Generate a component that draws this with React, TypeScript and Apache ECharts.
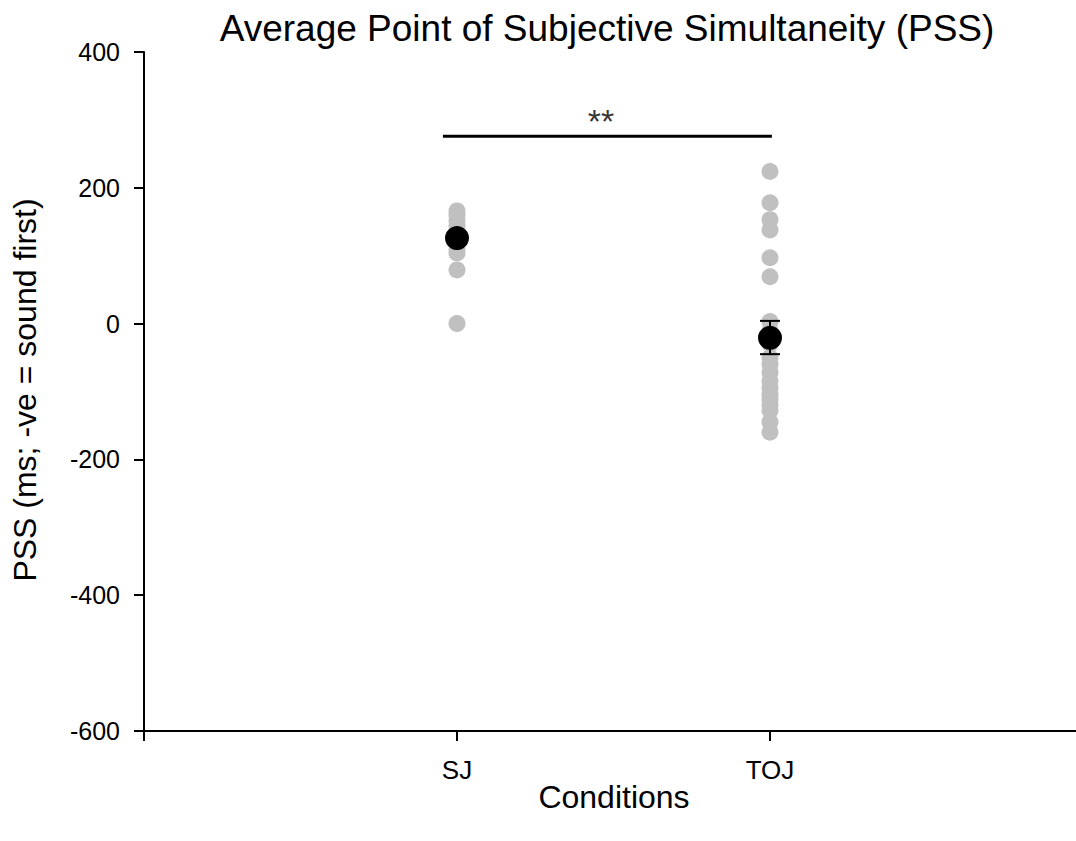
import React, { useEffect, useRef } from "react";
import * as echarts from "echarts";

const categories = ["SJ", "TOJ"];
const categoryPositions = [1, 2];
const sjPoints = [166, 160, 152, 145, 138, 130, 124, 118, 110, 104, 79, 0];
const tojPoints = [224, 178, 153, 138, 97, 69, 3, -10, -30, -50, -60, -72, -85, -95, -105, -112, -120, -128, -145, -160];
const means = [126, -21];
const errLow = [118, -45];
const errHigh = [134, 4];
const sigBarX = [0.955, 2.006];
const sigBarY = 276;
const sigLabel = "**";
const sigLabelX = 1.46;
const yTicks = [-600, -400, -200, 0, 200, 400];

const FONT = "Liberation Sans, Arial, sans-serif";

export default function App() {
  const ref = useRef<HTMLDivElement>(null);
  useEffect(() => {
    document.body.style.margin = "0";
    const chart = echarts.init(ref.current!, null, { renderer: "svg" });
    const grey = [
      ...sjPoints.map((v) => [categoryPositions[0], v]),
      ...tojPoints.map((v) => [categoryPositions[1], v]),
    ];
    const meanData = means.map((m, i) => [categoryPositions[i], m]);
    const errData = means.map((_, i) => [categoryPositions[i], errLow[i], errHigh[i]]);
    chart.setOption({
      animation: false,
      textStyle: { fontFamily: FONT },
      graphic: [
        {
          type: "text",
          x: 607,
          y: 10,
          style: {
            text: "Average Point of Subjective Simultaneity (PSS)",
            font: `37px ${FONT}`,
            fill: "#000",
            textAlign: "center",
            textVerticalAlign: "top",
          },
        },
        {
          type: "text",
          x: 25,
          y: 390,
          rotation: Math.PI / 2,
          style: {
            text: "PSS (ms; -ve = sound first)",
            font: `32px ${FONT}`,
            fill: "#000",
            textAlign: "center",
            textVerticalAlign: "middle",
          },
        },
        {
          type: "text",
          x: 614,
          y: 797,
          style: {
            text: "Conditions",
            font: `32px ${FONT}`,
            fill: "#000",
            textAlign: "center",
            textVerticalAlign: "middle",
          },
        },
      ],
      grid: {
        left: 144,
        top: 52,
        height: 679,
        width: 939,
        containLabel: false,
        outerBoundsMode: "none",
      },
      xAxis: {
        type: "value",
        min: 0,
        max: 3,
        interval: 1,
        axisLine: { show: true, onZero: false, lineStyle: { color: "#000", width: 2 } },
        axisTick: { show: true, length: 10, lineStyle: { color: "#000", width: 2 } },
        axisLabel: {
          margin: 26,
          fontSize: 26,
          color: "#000",
          fontFamily: FONT,
          formatter: (v: number) => {
            const i = categoryPositions.indexOf(v);
            return i >= 0 ? categories[i] : "";
          },
        },
        splitLine: { show: false },
      },
      yAxis: {
        type: "value",
        min: yTicks[0],
        max: yTicks[yTicks.length - 1],
        interval: 200,
        axisLine: { show: true, onZero: false, lineStyle: { color: "#000", width: 2 } },
        axisTick: { show: true, length: 10, lineStyle: { color: "#000", width: 2 } },
        axisLabel: { margin: 24, fontSize: 25, color: "#000", fontFamily: FONT },
        splitLine: { show: false },
      },
      series: [
        {
          type: "scatter",
          data: grey,
          symbolSize: 17,
          itemStyle: { color: "#c0c0c0", opacity: 1 },
          z: 2,
        },
        {
          type: "custom",
          data: errData,
          z: 3,
          renderItem: (params: any, api: any) => {
            const x = api.value(0);
            const lo = api.coord([x, api.value(1)]);
            const hi = api.coord([x, api.value(2)]);
            const hw = 10;
            const style = { stroke: "#000", lineWidth: 2 };
            return {
              type: "group",
              children: [
                { type: "line", shape: { x1: lo[0], y1: lo[1], x2: hi[0], y2: hi[1] }, style },
                { type: "line", shape: { x1: lo[0] - hw, y1: lo[1], x2: lo[0] + hw, y2: lo[1] }, style },
                { type: "line", shape: { x1: hi[0] - hw, y1: hi[1], x2: hi[0] + hw, y2: hi[1] }, style },
              ],
            };
          },
        },
        {
          type: "scatter",
          data: meanData,
          symbolSize: 24,
          itemStyle: { color: "#000", opacity: 1 },
          z: 4,
        },
        {
          type: "line",
          data: sigBarX.map((x) => [x, sigBarY]),
          symbol: "none",
          lineStyle: { color: "#000", width: 3 },
          z: 5,
        },
        {
          type: "scatter",
          data: [[sigLabelX, sigBarY]],
          symbolSize: 0,
          label: {
            show: true,
            position: "top",
            distance: -2,
            formatter: sigLabel,
            fontSize: 34,
            color: "#000",
            fontFamily: FONT,
          },
          z: 5,
        },
      ],
    });
    return () => chart.dispose();
  }, []);
  return (
    <div
      ref={ref}
      style={{ position: "absolute", left: 0, top: 0, width: 1076, height: 841, background: "#fff" }}
    />
  );
}
